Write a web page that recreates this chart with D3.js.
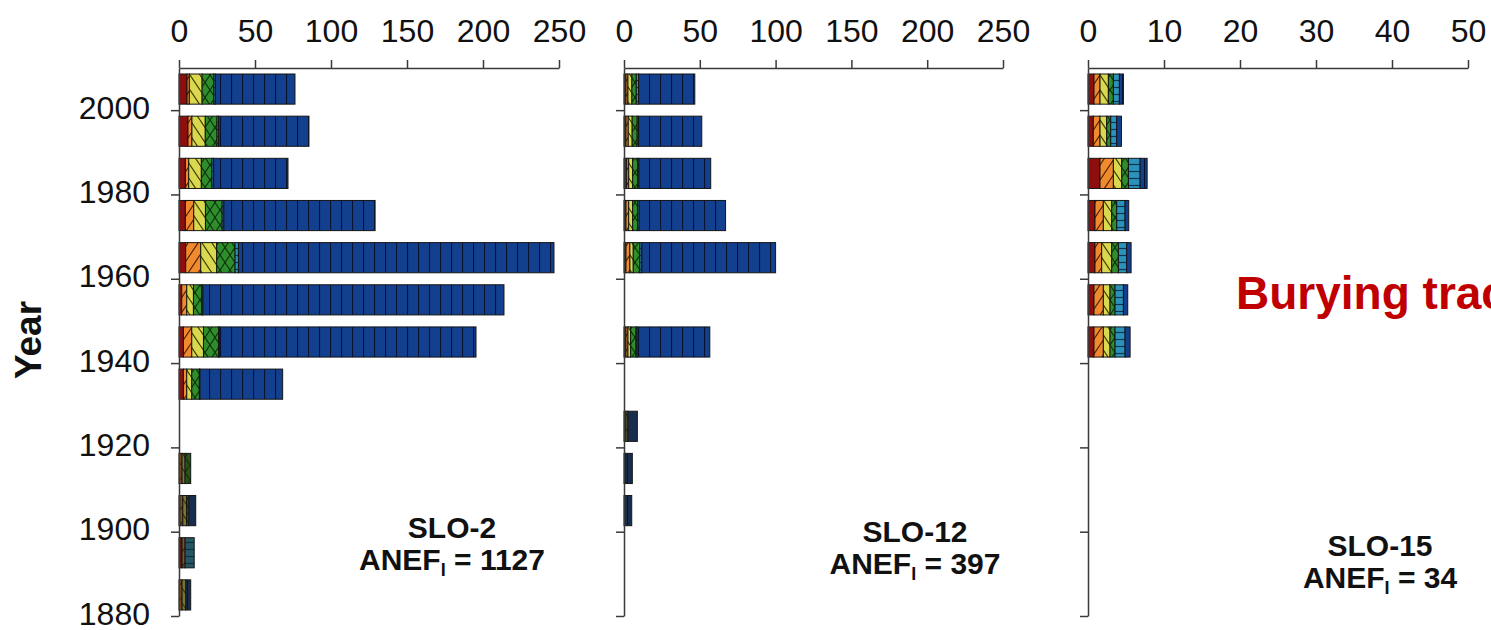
<!DOCTYPE html>
<html>
<head>
<meta charset="utf-8">
<script src="https://cdn.jsdelivr.net/npm/d3@7/dist/d3.min.js"></script>
<style>
  body { margin: 0; background: #fff; }
  svg { display: block; }
</style>
</head>
<body>
<svg id="chart" width="1491" height="630"></svg>
<script>
// ---- data -------------------------------------------------------------
const yearTicks = [1880, 1900, 1920, 1940, 1960, 1980, 2000];
const countTicksWide = [0, 50, 100, 150, 200, 250];
const countTicksNarrow = [0, 10, 20, 30, 40, 50];

// six burial classes, stacked left to right in every bar
const classKeys = ["k1", "k2", "k3", "k4", "k5", "k6"];

// SLO-2: counts per decade, one value per class
const slo2Decades = [2000, 1990, 1980, 1970, 1960, 1950, 1940, 1930, 1910, 1900, 1890, 1880];
const slo2Counts = [
  [5.3, 1.5, 8.4, 7.7, 1.0, 52.4],
  [5.9, 2.6, 8.8, 7.7, 1.1, 59.4],
  [4.2, 2.2, 8.3, 7.0, 1.1, 48.9],
  [4.2, 5.5, 7.7, 11.0, 1.1, 99.5],
  [4.4, 9.9, 10.5, 12.1, 2.2, 207.6],
  [1.8, 3.3, 4.4, 5.5, 0.7, 198.1],
  [2.9, 5.5, 7.7, 9.9, 0.8, 168.6],
  [2.9, 2.2, 3.3, 5.0, 0.4, 54.4],
  [0, 2.0, 2.0, 3.7, 0, 0],
  [0.5, 2.0, 2.5, 1.5, 0, 4.5],
  [2.0, 2.0, 0, 0, 6.0, 0],
  [0, 2.0, 2.5, 0, 0, 3.2]
];
const slo2LowDepth = [1910, 1900, 1890, 1880];
const slo2Anef = 1127;

// SLO-12
const slo12Decades = [2000, 1990, 1980, 1970, 1960, 1940, 1920, 1910, 1900];
const slo12Counts = [
  [1.3, 1.3, 2.6, 2.9, 1.5, 37.1],
  [1.3, 1.5, 2.6, 3.3, 0.8, 41.8],
  [1.8, 1.3, 2.6, 3.3, 0.8, 47.4],
  [1.3, 1.8, 2.6, 3.3, 1.0, 57.0],
  [1.3, 2.6, 2.2, 4.4, 1.3, 88.2],
  [1.3, 1.3, 1.8, 3.5, 0.7, 48.0],
  [0, 1.3, 1.3, 0, 0, 6.2],
  [0, 0, 0, 1.0, 0, 4.5],
  [0, 0, 0, 0, 0, 5.1]
];
const slo12LowDepth = [1920, 1910, 1900];
const slo12Anef = 397;

// SLO-15
const slo15Decades = [2000, 1990, 1980, 1970, 1960, 1950, 1940];
const slo15Counts = [
  [0.79, 0.79, 1.10, 0.66, 0.79, 0.53],
  [0.70, 0.88, 0.88, 0.53, 0.79, 0.62],
  [1.58, 1.76, 1.10, 0.88, 1.54, 0.92],
  [0.92, 1.10, 1.10, 0.66, 1.10, 0.48],
  [0.92, 0.88, 1.32, 0.88, 1.10, 0.57],
  [0.79, 1.23, 0.88, 0.66, 1.10, 0.57],
  [0.79, 1.23, 0.88, 0.66, 1.32, 0.66]
];
const slo15LowDepth = [];
const slo15Anef = 34;

// ---- drawing ----------------------------------------------------------
const svg = d3.select("#chart");
const W = 1491, H = 630;
svg.append("rect").attr("width", W).attr("height", H).attr("fill", "#fff");

const axisColor = "#3a3a3a";
const fontFamily = "'Liberation Sans', Arial, sans-serif";

const y = d3.scaleLinear().domain([1880, 2010]).range([616, 68]);

// fills and hatch patterns for each class
const classStyle = {
  k1: { fill: "#8e0d0d", ink: "#3a0000", hatch: "none" },
  k2: { fill: "#f08a2c", ink: "#4a2200", hatch: "fwd" },
  k3: { fill: "#d9d84e", ink: "#3d3a00", hatch: "back" },
  k4: { fill: "#2f8e2b", ink: "#0b330b", hatch: "cross" },
  k5: { fill: "#2b92bb", ink: "#0b3550", hatch: "horiz" },
  k6: { fill: "#123f8e", ink: "#06122e", hatch: "vert" }
};
const dimTarget = "#1e1e12";
const defs = svg.append("defs");

function makePattern(id, fill, ink, hatch) {
  const pw = 10, ph = 15;
  const p = defs.append("pattern")
    .attr("id", id)
    .attr("patternUnits", "userSpaceOnUse")
    .attr("width", hatch === "vert" ? 11 : (hatch === "horiz" ? 10 : pw))
    .attr("height", hatch === "vert" ? 10 : (hatch === "horiz" ? 7 : ph));
  p.append("rect").attr("width", 20).attr("height", 20).attr("fill", fill);
  const line = (x1, y1, x2, y2) => p.append("line")
    .attr("x1", x1).attr("y1", y1).attr("x2", x2).attr("y2", y2)
    .attr("stroke", ink).attr("stroke-width", 1.2);
  if (hatch === "fwd") { line(0, ph, pw, 0); line(-pw, ph, 0, 0); line(pw, ph, 2 * pw, 0); }
  if (hatch === "back") { line(0, 0, pw, ph); line(-pw, 0, 0, ph); line(pw, 0, 2 * pw, ph); }
  if (hatch === "cross") {
    line(0, ph, pw, 0); line(-pw, ph, 0, 0); line(pw, ph, 2 * pw, 0);
    line(0, 0, pw, ph); line(-pw, 0, 0, ph); line(pw, 0, 2 * pw, ph);
  }
  if (hatch === "horiz") { line(0, 3.5, 10, 3.5); }
  if (hatch === "vert") { line(0.5, 0, 0.5, 10); }
}
classKeys.forEach(k => {
  const s = classStyle[k];
  makePattern("fill-" + k, s.fill, s.ink, s.hatch);
  makePattern("fill-dim-" + k,
    d3.interpolateRgb(s.fill, dimTarget)(0.52),
    d3.interpolateRgb(s.ink, dimTarget)(0.3), s.hatch);
});

const panels = [
  { x0: 179, x1: 559, max: 250, ticks: countTicksWide, decades: slo2Decades, counts: slo2Counts,
    low: slo2LowDepth, name: "SLO-2", anef: slo2Anef, labelX: 452, labelY: 538, yLabels: true },
  { x0: 624, x1: 1003, max: 250, ticks: countTicksWide, decades: slo12Decades, counts: slo12Counts,
    low: slo12LowDepth, name: "SLO-12", anef: slo12Anef, labelX: 915, labelY: 542, yLabels: false },
  { x0: 1088, x1: 1468, max: 50, ticks: countTicksNarrow, decades: slo15Decades, counts: slo15Counts,
    low: slo15LowDepth, name: "SLO-15", anef: slo15Anef, labelX: 1380, labelY: 556, yLabels: false }
];

panels.forEach(P => {
  const x = d3.scaleLinear().domain([0, P.max]).range([P.x0, P.x1]);
  const g = svg.append("g");

  // stacked bars, one per decade
  const rows = P.decades.map((dec, i) => {
    const vals = P.counts[i];
    const ends = d3.cumsum(vals);
    return {
      decade: dec,
      dim: P.low.includes(dec),
      segs: classKeys.map((k, j) => ({ key: k, from: ends[j] - vals[j], to: ends[j] }))
        .filter(s => s.to - s.from > 0)
    };
  });
  const pad = 6;
  const bars = g.selectAll("g.bar").data(rows).join("g").attr("class", "bar");
  bars.selectAll("rect").data(r => r.segs.map(s => ({ ...s, decade: r.decade, dim: r.dim })))
    .join("rect")
    .attr("x", s => x(s.from))
    .attr("width", s => x(s.to) - x(s.from))
    .attr("y", s => y(s.decade + 10) + pad)
    .attr("height", s => y(s.decade) - y(s.decade + 10) - 2 * pad)
    .attr("fill", s => `url(#fill-${s.dim ? "dim-" : ""}${s.key})`)
    .attr("stroke", "#151515")
    .attr("stroke-width", 1);

  // top count axis
  const top = g.append("g").attr("transform", `translate(0,${y(2010)})`)
    .call(d3.axisTop(x).tickValues(P.ticks).tickSize(8).tickSizeOuter(0).tickPadding(18));
  // left year axis
  const left = g.append("g").attr("transform", `translate(${P.x0},0)`)
    .call(d3.axisLeft(y).tickValues(yearTicks).tickSize(8).tickSizeOuter(0).tickPadding(21)
      .tickFormat(P.yLabels ? d3.format("d") : () => ""));
  [top, left].forEach(a => {
    a.select(".domain").attr("stroke", axisColor).attr("stroke-width", 1.5);
    a.selectAll(".tick line").attr("stroke", axisColor).attr("stroke-width", 1.5);
    a.selectAll(".tick text").attr("fill", "#111").attr("font-family", fontFamily).attr("font-size", 32);
  });
  left.selectAll(".tick text").attr("dy", "0.25em");

  // site name and index
  const lab = g.append("g").attr("font-family", fontFamily).attr("font-weight", "bold")
    .attr("font-size", 30).attr("fill", "#111").attr("text-anchor", "middle");
  lab.append("text").attr("x", P.labelX).attr("y", P.labelY).text(P.name);
  const t = lab.append("text").attr("x", P.labelX).attr("y", P.labelY + 32);
  t.append("tspan").text("ANEF");
  t.append("tspan").attr("dy", 6).attr("font-size", 18).text("I");
  t.append("tspan").attr("dy", -6).text(` = ${P.anef}`);
});

// y axis title
svg.append("text")
  .attr("transform", "translate(41,340) rotate(-90)")
  .attr("text-anchor", "middle")
  .attr("font-family", fontFamily).attr("font-weight", "bold").attr("font-size", 37)
  .attr("fill", "#111")
  .text("Year");

// annotation running off the right edge
svg.append("text")
  .attr("x", 1236).attr("y", 309)
  .attr("font-family", fontFamily).attr("font-weight", "bold").attr("font-size", 46)
  .attr("fill", "#c00000")
  .text("Burying traces");
</script>
</body>
</html>
